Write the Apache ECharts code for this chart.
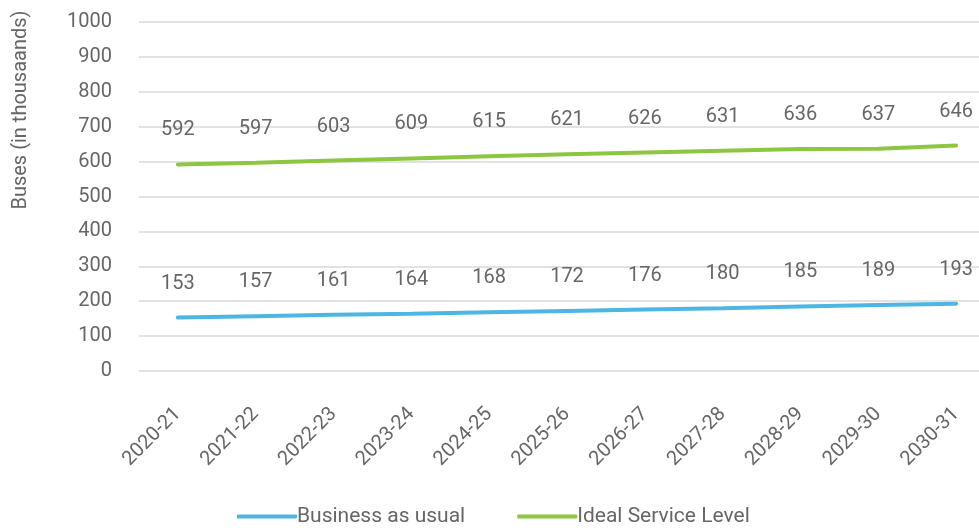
<!DOCTYPE html>
<html>
<head>
<meta charset="utf-8">
<script src="https://cdn.jsdelivr.net/npm/echarts@6/dist/echarts.min.js"></script>
<style>
  html, body { margin: 0; padding: 0; background: #fff; }
  #chart { width: 979px; height: 528px; }
</style>
</head>
<body>
<div id="chart"></div>
<script>
// Fiscal years on the x axis
const years = ['2020-21', '2021-22', '2022-23', '2023-24', '2024-25', '2025-26',
  '2026-27', '2027-28', '2028-29', '2029-30', '2030-31'];
// Bus fleet projections, thousands
const businessAsUsual = [153, 157, 161, 164, 168, 172, 176, 180, 185, 189, 193];
const idealServiceLevel = [592, 597, 603, 609, 615, 621, 626, 631, 636, 637, 646];

const textColor = '#666666';
const font = 'Roboto';

const chart = echarts.init(document.getElementById('chart'), null, { renderer: 'canvas' });

function lineSeries(name, data, color) {
  return {
    name: name,
    type: 'line',
    data: data,
    symbol: 'circle',
    symbolSize: 2,
    showSymbol: true,
    showAllSymbol: true,
    itemStyle: { color: color },
    lineStyle: { width: 4, color: color, cap: 'round' },
    labelLayout: { hideOverlap: false },
    label: {
      show: true,
      position: 'top',
      distance: 23,
      color: textColor,
      fontFamily: font,
      fontSize: 20
    }
  };
}

chart.setOption({
  animation: false,
  grid: { left: 139, top: 22, right: -16, bottom: 157, containLabel: false, outerBoundsMode: 'none' },
  legend: {
    top: 501,
    left: 232,
    itemWidth: 60,
    itemHeight: 4,
    itemGap: 52,
    icon: 'roundRect',
    textStyle: { color: textColor, fontFamily: font, fontSize: 21, padding: [0, 0, 0, -5] },
    data: ['Business as usual', 'Ideal Service Level']
  },
  xAxis: {
    type: 'category',
    data: years,
    boundaryGap: true,
    axisLine: { show: false },
    axisTick: { show: false },
    axisLabel: {
      rotate: 45,
      margin: 40,
      color: textColor,
      fontFamily: font,
      fontSize: 20
    }
  },
  yAxis: {
    type: 'value',
    min: 0,
    max: 1000,
    interval: 100,
    axisLine: { show: false },
    axisTick: { show: false },
    splitLine: { lineStyle: { color: '#d9d9d9', width: 1.5 } },
    axisLabel: {
      margin: 27,
      color: textColor,
      fontFamily: font,
      fontSize: 20,
      formatter: function (v) { return String(v); }
    }
  },
  graphic: [{
    type: 'text',
    x: 21,
    y: 110,
    rotation: Math.PI / 2,
    style: {
      text: 'Buses (in thousaands)',
      fill: textColor,
      font: '20px Roboto',
      textAlign: 'center',
      textVerticalAlign: 'middle'
    }
  }],
  series: [
    lineSeries('Business as usual', businessAsUsual, '#4DB6E2'),
    lineSeries('Ideal Service Level', idealServiceLevel, '#8DC640')
  ]
});
</script>
</body>
</html>
